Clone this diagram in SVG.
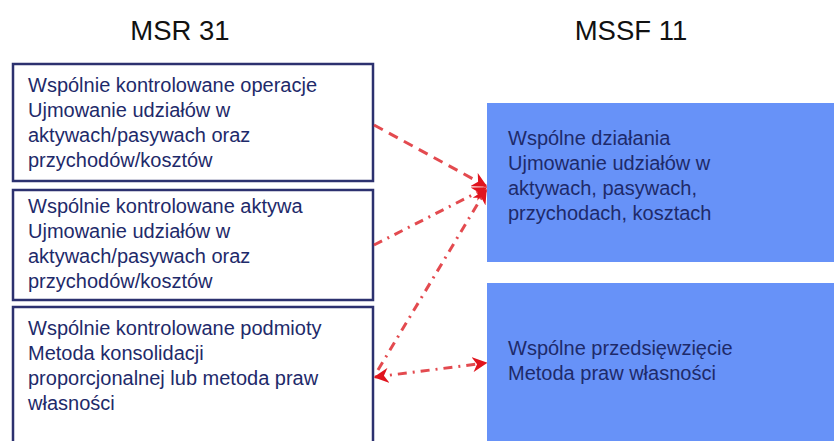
<svg xmlns="http://www.w3.org/2000/svg" width="834" height="441" viewBox="0 0 834 441">
<defs>
<style>
.title{font-family:"Liberation Sans",Arial,sans-serif;font-size:27.5px;fill:#111;}
.t{font-family:"Liberation Sans",Arial,sans-serif;font-size:20px;fill:#1e2a6a;}
.lbox{fill:#ffffff;stroke:#2c316f;stroke-width:2.5;}
.rbox{fill:#6792f8;}
.c{fill:none;stroke:#de2a30;stroke-width:3;stroke-opacity:0.85;}
.dash{stroke-dasharray:10 7;}
.dd{stroke-dasharray:9 6 2 6;}
</style>
<marker id="ah" viewBox="0 0 10 10" refX="9" refY="5" markerWidth="5" markerHeight="5" orient="auto-start-reverse" markerUnits="strokeWidth">
<path d="M0,0 L10,5 L0,10 L3,5 Z" fill="#e0141e"/>
</marker>
</defs>
<rect width="834" height="441" fill="#ffffff"/>
<g id="title-msr"><text class="title" x="180" y="40" text-anchor="middle">MSR 31</text></g>
<g id="title-mssf"><text class="title" x="631" y="40" text-anchor="middle">MSSF 11</text></g>
<g id="msr-operacje">
<rect class="lbox" x="13" y="64" width="360" height="117"/>
<text class="t" x="28" y="92">Wspólnie kontrolowane operacje</text>
<text class="t" x="28" y="117">Ujmowanie udziałów w</text>
<text class="t" x="28" y="142">aktywach/pasywach oraz</text>
<text class="t" x="28" y="167">przychodów/kosztów</text>
</g>
<g id="msr-aktywa">
<rect class="lbox" x="13" y="190" width="360" height="110"/>
<text class="t" x="28" y="213">Wspólnie kontrolowane aktywa</text>
<text class="t" x="28" y="238">Ujmowanie udziałów w</text>
<text class="t" x="28" y="263">aktywach/pasywach oraz</text>
<text class="t" x="28" y="288">przychodów/kosztów</text>
</g>
<g id="msr-podmioty">
<rect class="lbox" x="13" y="307" width="360" height="150"/>
<text class="t" x="28" y="335">Wspólnie kontrolowane podmioty</text>
<text class="t" x="28" y="360">Metoda konsolidacji</text>
<text class="t" x="28" y="385">proporcjonalnej lub metoda praw</text>
<text class="t" x="28" y="410">własności</text>
</g>
<g id="mssf-dzialania">
<rect class="rbox" x="487" y="103" width="360" height="159"/>
<text class="t" x="508" y="145">Wspólne działania</text>
<text class="t" x="508" y="170">Ujmowanie udziałów w</text>
<text class="t" x="508" y="195">aktywach, pasywach,</text>
<text class="t" x="508" y="220">przychodach, kosztach</text>
</g>
<g id="mssf-przedsiewziecie">
<rect class="rbox" x="487" y="283" width="360" height="170"/>
<text class="t" x="508" y="355">Wspólne przedsięwzięcie</text>
<text class="t" x="508" y="380">Metoda praw własności</text>
</g>
<g id="connectors">
<path class="c dash" d="M374,125 L486,186" marker-end="url(#ah)"/>
<path class="c dd" d="M374,245 L486,188" marker-end="url(#ah)"/>
<path class="c dd" d="M378,370 L486,190" marker-end="url(#ah)"/>
<path class="c dd" d="M375,377 L486,363" marker-start="url(#ah)" marker-end="url(#ah)"/>
</g>
</svg>
